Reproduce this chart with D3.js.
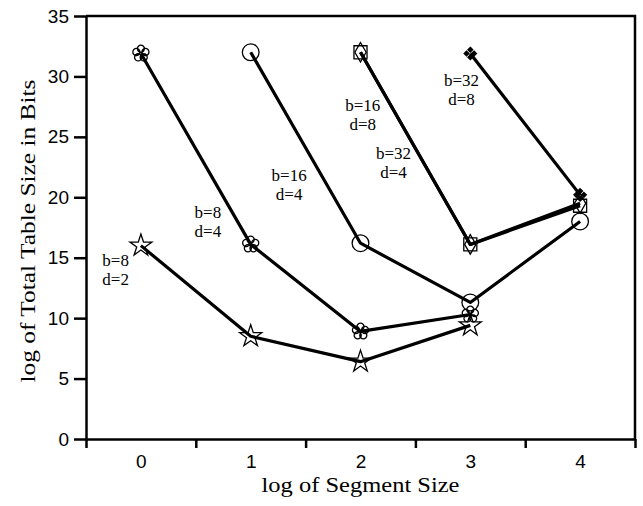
<!DOCTYPE html>
<html>
<head>
<meta charset="utf-8">
<script src="https://cdn.jsdelivr.net/npm/d3@7"></script>
<style>
  html, body { margin: 0; padding: 0; background: #fff; }
  svg { display: block; }
  .axis path, .axis line { stroke: #000; stroke-width: 2.5px; }
  .axis text { font-family: "Liberation Sans", Arial, sans-serif; font-size: 19px; fill: #000; }
  .title { font-family: "Liberation Serif", "Times New Roman", serif; font-size: 22px; fill: #000; }
  .note { font-family: "Liberation Serif", "Times New Roman", serif; font-size: 17px; fill: #000; }
</style>
</head>
<body>
<svg id="chart"></svg>
<script>
(function() {
    'use strict';

    // log of segment size (x categories)
    var segSize = [0, 1, 2, 3, 4];
    var xTickLabels = ["0", "1", "2", "3", "4"];
    var yTicks = [0, 5, 10, 15, 20, 25, 30, 35];

    // log of total table size in bits, one list per (b, d) setting
    var bitsB8D2 = [16.0, 8.5, 6.4, 9.4, null];
    var bitsB8D4 = [31.9, 16.1, 8.9, 10.3, null];
    var bitsB16D4 = [null, 32.0, 16.2, 11.3, 18.0];
    var bitsB16D8 = [null, null, 32.0, 16.1, 19.3];
    var bitsB32D4 = [null, null, 32.0, 16.1, 19.5];
    var bitsB32D8 = [null, null, null, 31.9, 20.2];

    var seriesNames = ["b=8 d=2", "b=8 d=4", "b=16 d=4", "b=16 d=8", "b=32 d=4", "b=32 d=8"];

    var width = 643, height = 506,
        margin = {top: 16, right: 8, bottom: 67, left: 86},
        plot_w = width - margin.left - margin.right,
        plot_h = height - margin.top - margin.bottom;

    // custom symbols
    var symbolFlower = {
        draw: function(ctx, size) {
            var r = Math.sqrt(size) / 4.2, R = r * 1.35;
            for (var i = 0; i < 5; i++) {
                var a = -Math.PI / 2 + i * 2 * Math.PI / 5,
                    cx = R * Math.cos(a), cy = R * Math.sin(a);
                ctx.moveTo(cx + r, cy);
                ctx.arc(cx, cy, r, 0, 2 * Math.PI);
            }
        }
    };
    var symbolFourDiamond = {
        draw: function(ctx, size) {
            var s = Math.sqrt(size) / 5.5;
            [[0, -1], [1, 0], [0, 1], [-1, 0]].forEach(function(o) {
                var cx = o[0] * s * 1.6, cy = o[1] * s * 1.6;
                ctx.moveTo(cx, cy - s);
                ctx.lineTo(cx + s, cy);
                ctx.lineTo(cx, cy + s);
                ctx.lineTo(cx - s, cy);
                ctx.closePath();
            });
        }
    };

    var series = [
        {name: seriesNames[0], values: bitsB8D2, symbol: d3.symbolStar, size: 150, filled: false},
        {name: seriesNames[1], values: bitsB8D4, symbol: symbolFlower, size: 220, filled: false},
        {name: seriesNames[2], values: bitsB16D4, symbol: d3.symbolCircle, size: 220, filled: false},
        {name: seriesNames[3], values: bitsB16D8, symbol: d3.symbolSquare, size: 170, filled: false},
        {name: seriesNames[4], values: bitsB32D4, symbol: d3.symbolDiamond, size: 110, filled: false},
        {name: seriesNames[5], values: bitsB32D8, symbol: symbolFourDiamond, size: 170, filled: true}
    ];

    // annotation placement (data coords of first line centre)
    var notes = [
        {lines: ["b=8", "d=2"], x: -0.23, y: 14.81},
        {lines: ["b=8", "d=4"], x: 0.61, y: 18.78},
        {lines: ["b=16", "d=4"], x: 1.35, y: 21.84},
        {lines: ["b=16", "d=8"], x: 2.02, y: 27.64},
        {lines: ["b=32", "d=4"], x: 2.30, y: 23.66},
        {lines: ["b=32", "d=8"], x: 2.92, y: 29.70}
    ];

    var svg = d3.select("#chart")
        .attr("width", width)
        .attr("height", height);
    var g = svg.append("g")
        .attr("transform", "translate(" + margin.left + "," + margin.top + ")");

    var x = d3.scaleLinear().domain([-0.5, 4.5]).range([0, plot_w]);
    var y = d3.scaleLinear().domain([0, 35]).range([plot_h, 0]);

    // frame top & right
    g.append("path")
        .attr("d", "M0,0H" + plot_w + "V" + plot_h)
        .attr("fill", "none")
        .attr("stroke", "#000")
        .attr("stroke-width", 2.5);

    // x axis: ticks between categories, labels at integers
    g.append("g")
        .attr("class", "axis")
        .attr("transform", "translate(0," + plot_h + ")")
        .call(d3.axisBottom(x)
            .tickValues([-0.5, 0.5, 1.5, 2.5, 3.5, 4.5])
            .tickFormat("")
            .tickSize(9)
            .tickSizeOuter(0));
    var xLab = g.append("g")
        .attr("class", "axis")
        .attr("transform", "translate(0," + plot_h + ")")
        .call(d3.axisBottom(x)
            .tickValues(segSize)
            .tickFormat(function(d, i) { return xTickLabels[i]; })
            .tickSize(0)
            .tickPadding(16));
    xLab.select(".domain").remove();

    g.append("g")
        .attr("class", "axis")
        .call(d3.axisLeft(y)
            .tickValues(yTicks)
            .tickSize(12)
            .tickSizeOuter(0)
            .tickPadding(5));

    // axis titles
    svg.append("text")
        .attr("class", "title")
        .attr("text-anchor", "middle")
        .attr("x", margin.left + x(2.0))
        .attr("y", 492)
        .attr("textLength", 198)
        .attr("lengthAdjust", "spacingAndGlyphs")
        .text("log of Segment Size");
    svg.append("text")
        .attr("class", "title")
        .attr("text-anchor", "middle")
        .attr("transform", "translate(35,231) rotate(-90)")
        .attr("textLength", 303)
        .attr("lengthAdjust", "spacingAndGlyphs")
        .text("log of Total Table Size in Bits");

    // lines
    var line = d3.line()
        .defined(function(d) { return d != null; })
        .x(function(d, i) { return x(segSize[i]); })
        .y(function(d) { return y(d); });

    g.selectAll(".series-line")
        .data(series)
        .enter().append("path")
        .attr("class", "series-line")
        .attr("d", function(s) { return line(s.values); })
        .attr("fill", "none")
        .attr("stroke", "#000")
        .attr("stroke-width", 3.2)
        .attr("stroke-linejoin", "round");

    // markers
    series.forEach(function(s) {
        var pts = s.values.map(function(v, i) { return {x: segSize[i], y: v}; })
            .filter(function(p) { return p.y != null; });
        g.selectAll(null)
            .data(pts)
            .enter().append("path")
            .attr("transform", function(p) { return "translate(" + x(p.x) + "," + y(p.y) + ")"; })
            .attr("d", d3.symbol().type(s.symbol).size(s.size))
            .attr("fill", s.filled ? "#000" : "none")
            .attr("stroke", "#000")
            .attr("stroke-width", 1.3);
    });

    // annotations
    notes.forEach(function(n) {
        var t = g.append("text")
            .attr("class", "note")
            .attr("text-anchor", "middle")
            .attr("x", x(n.x))
            .attr("y", y(n.y));
        n.lines.forEach(function(l, i) {
            t.append("tspan")
                .attr("x", x(n.x))
                .attr("dy", i === 0 ? "0.35em" : "1.1em")
                .text(l);
        });
    });
})();
</script>
</body>
</html>
